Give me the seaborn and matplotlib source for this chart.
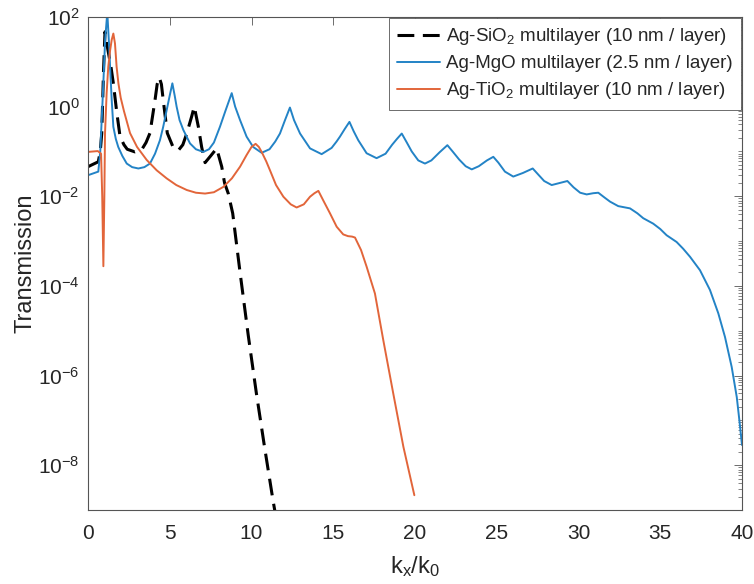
import numpy as np
import pandas as pd
import matplotlib
matplotlib.use("Agg")
import matplotlib.pyplot as plt
from matplotlib.ticker import FixedLocator, FuncFormatter, NullFormatter
import seaborn as sns

# ---------------- data ----------------
sio2_kx = [0, 0.63, 0.75, 0.84, 0.95, 1.04, 1.2, 1.4, 1.55, 1.75, 1.96, 2.2, 2.4,
           2.87, 3.3, 3.55, 3.79, 4.1, 4.23, 4.36, 4.49, 4.6, 4.85, 5.2, 5.52, 5.8,
           6.04, 6.34, 6.5, 6.75, 6.95, 7.16, 7.5, 7.87, 8.18, 8.35, 8.58, 8.85,
           9.3, 9.8, 10.3, 10.8, 11.3, 11.7]
sio2_T = [0.0457, 0.0589, 0.1, 0.251, 6.31, 46.8, 20.0, 7.94, 3.31, 0.794, 0.214,
          0.141, 0.112, 0.0977, 0.112, 0.158, 0.257, 1.41, 3.16, 4.47, 3.16, 1.41,
          0.257, 0.126, 0.105, 0.141, 0.251, 0.603, 1.0, 0.355, 0.126, 0.0562,
          0.0794, 0.117, 0.0457, 0.02, 0.0115, 4.17e-3, 2.0e-4, 7.94e-6, 3.98e-7,
          2.51e-8, 1.78e-9, 2.51e-10]

mgo_kx = [0, 0.63, 0.75, 0.9, 1.05, 1.18, 1.3, 1.35, 1.45, 1.55, 1.7, 1.85, 2.1,
          2.37, 2.7, 3.08, 3.45, 3.79, 4.1, 4.4, 4.6, 4.81, 5.0, 5.16, 5.3, 5.42,
          5.6, 5.83, 6.24, 6.6, 7.05, 7.4, 7.7, 8.07, 8.4, 8.79, 9.0, 9.3, 9.7,
          10.1, 10.62, 11.1, 11.45, 11.74, 12.05, 12.35, 12.6, 12.97, 13.58, 14.29,
          14.9, 15.2, 15.41, 15.7, 15.99, 16.25, 16.53, 17.04, 17.65, 18.2, 18.6,
          18.9, 19.19, 19.5, 19.8, 20.2, 20.61, 21.0, 21.5, 21.98, 22.3, 22.7,
          23.1, 23.47, 23.9, 24.4, 24.79, 25.1, 25.5, 26.01, 26.6, 27.2, 27.5,
          27.9, 28.36, 28.9, 29.32, 29.7, 30.1, 30.5, 30.9, 31.21, 31.6, 31.93,
          32.43, 33.15, 33.6, 33.96, 34.57, 35.0, 35.39, 36.0, 36.4, 36.82, 37.43,
          38.04, 38.55, 38.96, 39.37, 39.68, 39.84, 40.0]
mgo_T = [0.0295, 0.0355, 0.1, 1.58, 31.6, 126, 20.0, 7.76, 1.41, 0.355, 0.191,
         0.126, 0.0794, 0.0537, 0.0447, 0.0417, 0.0447, 0.0537, 0.0891, 0.178,
         0.355, 0.832, 1.78, 3.31, 1.78, 1.0, 0.501, 0.302, 0.151, 0.112, 0.0977,
         0.112, 0.158, 0.355, 0.794, 2.0, 1.0, 0.501, 0.214, 0.126, 0.0933, 0.112,
         0.166, 0.251, 0.501, 0.955, 0.501, 0.251, 0.117, 0.0871, 0.12, 0.166,
         0.214, 0.316, 0.457, 0.282, 0.178, 0.0912, 0.0708, 0.0891, 0.141, 0.191,
         0.251, 0.158, 0.1, 0.0631, 0.0537, 0.0631, 0.0955, 0.138, 0.1, 0.0661,
         0.0468, 0.0398, 0.0468, 0.0631, 0.0759, 0.0562, 0.0355, 0.0275, 0.0331,
         0.0417, 0.0316, 0.0219, 0.0178, 0.02, 0.0219, 0.0158, 0.012, 0.011,
         0.0117, 0.012, 9.33e-3, 7.59e-3, 6.03e-3, 5.37e-3, 4.17e-3, 3.24e-3,
         2.45e-3, 1.86e-3, 1.35e-3, 9.55e-4, 6.76e-4, 4.47e-4, 2.24e-4, 8.13e-5,
         2.45e-5, 7.24e-6, 1.55e-6, 3.31e-7, 1.0e-7, 2.82e-8]

tio2_kx = [0, 0.6, 0.8, 0.87, 0.94, 1.0, 1.04, 1.14, 1.24, 1.35, 1.45, 1.55, 1.65,
           1.75, 1.86, 2.0, 2.2, 2.57, 3.0, 3.59, 4.2, 4.81, 5.4, 6.04, 6.6, 7.16,
           7.7, 8.28, 8.8, 9.3, 9.7, 10.0, 10.25, 10.45, 10.62, 10.9, 11.13, 11.5,
           11.95, 12.4, 12.76, 13.2, 13.58, 13.85, 14.09, 14.4, 14.8, 15.21, 15.61,
           15.9, 16.15, 16.33, 16.7, 17.04, 17.55, 18.06, 18.67, 19.29, 19.96]
tio2_T = [0.0977, 0.102, 0.0891, 0.01, 2.75e-4, 0.01, 0.251, 2.0, 7.76, 17.8,
          30.9, 42.7, 25.7, 7.76, 3.31, 1.58, 0.794, 0.257, 0.126, 0.0646, 0.038,
          0.0251, 0.0178, 0.0138, 0.012, 0.0115, 0.0123, 0.0162, 0.0251, 0.0457,
          0.0832, 0.126, 0.148, 0.126, 0.0977, 0.0603, 0.038, 0.0178, 9.77e-3,
          6.61e-3, 5.62e-3, 6.61e-3, 9.77e-3, 0.0117, 0.0132, 7.94e-3, 4.17e-3,
          2.09e-3, 1.41e-3, 1.29e-3, 1.26e-3, 1.2e-3, 6.31e-4, 2.69e-4, 6.76e-5,
          6.17e-6, 3.98e-7, 2.57e-8, 2.14e-9]

series_labels = ["Ag-SiO$_2$ multilayer (10 nm / layer)",
                 "Ag-MgO multilayer (2.5 nm / layer)",
                 "Ag-TiO$_2$ multilayer (10 nm / layer)"]
x_ticks = [0, 5, 10, 15, 20, 25, 30, 35, 40]
y_label_exponents = [2, 0, -2, -4, -6, -8]

# ---------------- styling ----------------
sns.set_style("white")
plt.rcParams["font.family"] = ["Liberation Sans", "DejaVu Sans"]
plt.rcParams["mathtext.fontset"] = "custom"
plt.rcParams["mathtext.rm"] = "Liberation Sans"
plt.rcParams["mathtext.it"] = "Liberation Sans:italic"
plt.rcParams["mathtext.default"] = "regular"
text_color = "#262626"
axis_color = "#555555"

fig = plt.figure(figsize=(7.54, 5.84), dpi=100)
ax = fig.add_axes([88 / 754, 1 - 510 / 584, (742 - 88) / 754, (510 - 17) / 584])

df_sio2 = pd.DataFrame({"kx": sio2_kx, "T": sio2_T})
df_mgo = pd.DataFrame({"kx": mgo_kx, "T": mgo_T})
df_tio2 = pd.DataFrame({"kx": tio2_kx, "T": tio2_T})

sns.lineplot(data=df_sio2, x="kx", y="T", ax=ax, color="black", linewidth=2.2,
             linestyle="--", sort=False, estimator=None, label=series_labels[0])
ax.lines[-1].set_dashes((5.5, 2.8))
sns.lineplot(data=df_mgo, x="kx", y="T", ax=ax, color="#2383c6", linewidth=1.4,
             sort=False, estimator=None, label=series_labels[1])
sns.lineplot(data=df_tio2, x="kx", y="T", ax=ax, color="#e2653a", linewidth=1.4,
             sort=False, estimator=None, label=series_labels[2])
for ln in ax.lines:
    ln.set_solid_joinstyle("round")
    ln.set_dash_joinstyle("round")

ax.set_yscale("log")
ax.set_xlim(0, 40)
ax.set_ylim(1e-9, 1e2)

ax.xaxis.set_major_locator(FixedLocator(x_ticks))
major_y = [10.0 ** e for e in y_label_exponents]
ax.yaxis.set_major_locator(FixedLocator(major_y))
minor_y = [k * 10.0 ** n for n in range(-9, 2) for k in range(1, 10)
           if not (k == 1 and n in y_label_exponents)]
ax.yaxis.set_minor_locator(FixedLocator(minor_y))
ax.yaxis.set_minor_formatter(NullFormatter())
ax.yaxis.set_major_formatter(FuncFormatter(
    lambda v, p: "$10^{%d}$" % int(round(np.log10(v)))))

ax.tick_params(axis="both", which="both", direction="in", top=True, right=True,
               colors=axis_color, labelcolor=text_color, labelsize=15)
ax.tick_params(axis="both", which="major", length=6, width=0.6)
ax.tick_params(axis="both", which="minor", length=3, width=0.5)
ax.tick_params(axis="x", pad=10)
ax.tick_params(axis="y", pad=6)
for s in ax.spines.values():
    s.set_color(axis_color)
    s.set_linewidth(0.8)

ax.set_xlabel("k$_x$/k$_0$", fontsize=17, color=text_color, labelpad=8)
ax.set_ylabel("Transmission", fontsize=17, color=text_color)
ax.yaxis.set_label_coords(-0.079, 0.5)

leg = ax.legend(loc="upper right", borderaxespad=0.05, fancybox=False,
                edgecolor=axis_color, framealpha=1, fontsize=13.5,
                handlelength=2.3, handletextpad=0.3, borderpad=0.45,
                labelspacing=0.42)
leg.get_frame().set_linewidth(0.6)
for t in leg.get_texts():
    t.set_color(text_color)

fig.savefig("out.png", dpi=100)
